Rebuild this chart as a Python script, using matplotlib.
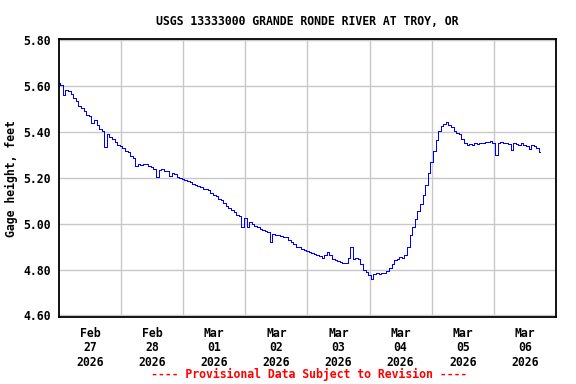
import numpy as np
import matplotlib
matplotlib.use("Agg")
import matplotlib.pyplot as plt
import matplotlib.dates as mdates

# gage height, hourly readings starting 2026-02-27 00:00 (feet)
gage_ft = [
    5.612, 5.606, 5.560, 5.584, 5.578, 5.566, 5.548, 5.535, 5.512, 5.505,
    5.492, 5.476, 5.468, 5.440, 5.452, 5.430, 5.412, 5.405, 5.335, 5.392,
    5.378, 5.370, 5.355, 5.342, 5.338, 5.330, 5.318, 5.312, 5.296, 5.288,
    5.250, 5.262, 5.258, 5.262, 5.260, 5.252, 5.249, 5.240, 5.205, 5.234,
    5.238, 5.232, 5.228, 5.210, 5.222, 5.215, 5.205, 5.200, 5.193, 5.190,
    5.185, 5.180, 5.172, 5.170, 5.163, 5.160, 5.150, 5.150, 5.146, 5.135,
    5.127, 5.120, 5.108, 5.102, 5.090, 5.076, 5.070, 5.058, 5.052, 5.040,
    5.032, 4.985, 5.024, 4.985, 5.008, 5.000, 4.992, 4.985, 4.978, 4.972,
    4.968, 4.965, 4.920, 4.955, 4.952, 4.950, 4.945, 4.943, 4.940, 4.928,
    4.918, 4.910, 4.900, 4.898, 4.890, 4.885, 4.880, 4.876, 4.870, 4.866,
    4.864, 4.860, 4.852, 4.865, 4.878, 4.865, 4.848, 4.840, 4.836, 4.832,
    4.830, 4.828, 4.850, 4.900, 4.845, 4.852, 4.845, 4.825, 4.800, 4.790,
    4.775, 4.760, 4.780, 4.784, 4.780, 4.786, 4.785, 4.795, 4.808, 4.826,
    4.840, 4.848, 4.855, 4.850, 4.862, 4.900, 4.950, 4.985, 5.020, 5.055,
    5.085, 5.125, 5.170, 5.220, 5.270, 5.318, 5.365, 5.405, 5.428, 5.436,
    5.442, 5.432, 5.420, 5.405, 5.396, 5.390, 5.368, 5.352, 5.345, 5.348,
    5.342, 5.350, 5.346, 5.352, 5.350, 5.355, 5.358, 5.360, 5.352, 5.300,
    5.352, 5.356, 5.350, 5.352, 5.348, 5.320, 5.350, 5.346, 5.344, 5.350,
    5.342, 5.340, 5.325, 5.343, 5.338, 5.332, 5.312,
]
start = np.datetime64("2026-02-27T00:00")
times = start + np.arange(len(gage_ft)) * np.timedelta64(1, "h")

day_labels = ["Feb\n27\n2026", "Feb\n28\n2026", "Mar\n01\n2026", "Mar\n02\n2026",
              "Mar\n03\n2026", "Mar\n04\n2026", "Mar\n05\n2026", "Mar\n06\n2026"]
y_ticks = [4.60, 4.80, 5.00, 5.20, 5.40, 5.60, 5.80]

font = {"family": "DejaVu Sans Mono", "weight": "bold", "size": 8.3}

fig = plt.figure(figsize=(5.76, 3.84), dpi=100)
ax = fig.add_axes([0.1024, 0.1745, 0.8626, 0.7235])

ax.plot(times.astype("datetime64[m]").astype(object), gage_ft, color="#0000ff",
        lw=0.7, drawstyle="steps-mid", antialiased=False)

x0 = mdates.date2num(start.astype(object))
ax.set_xlim(x0, x0 + 8)
ax.set_ylim(4.593, 5.805)

ax.set_xticks([x0 + i for i in range(1, 8)])
ax.set_xticklabels([])
ax.set_xticks([x0 + i + 0.5 for i in range(8)], minor=True)
ax.set_xticklabels(day_labels, minor=True, fontdict=font, linespacing=1.15)
ax.tick_params(axis="x", which="both", length=0, pad=7)

ax.set_yticks(y_ticks)
ax.set_yticklabels(["%.2f" % v for v in y_ticks], fontdict=font)
ax.tick_params(axis="y", length=0, pad=6)

ax.grid(True, which="major", color="#c8c8c8", lw=1.0)
ax.set_axisbelow(True)
for s in ax.spines.values():
    s.set_linewidth(1.3)

ax.set_ylabel("Gage height, feet", fontdict=font, labelpad=4)
ax.set_title("USGS 13333000 GRANDE RONDE RIVER AT TROY, OR", fontdict=font, pad=10)

fig.text(0.536, 0.024, "---- Provisional Data Subject to Revision ----",
         color="red", ha="center", va="center", **font)

fig.savefig("out.png", dpi=100)
